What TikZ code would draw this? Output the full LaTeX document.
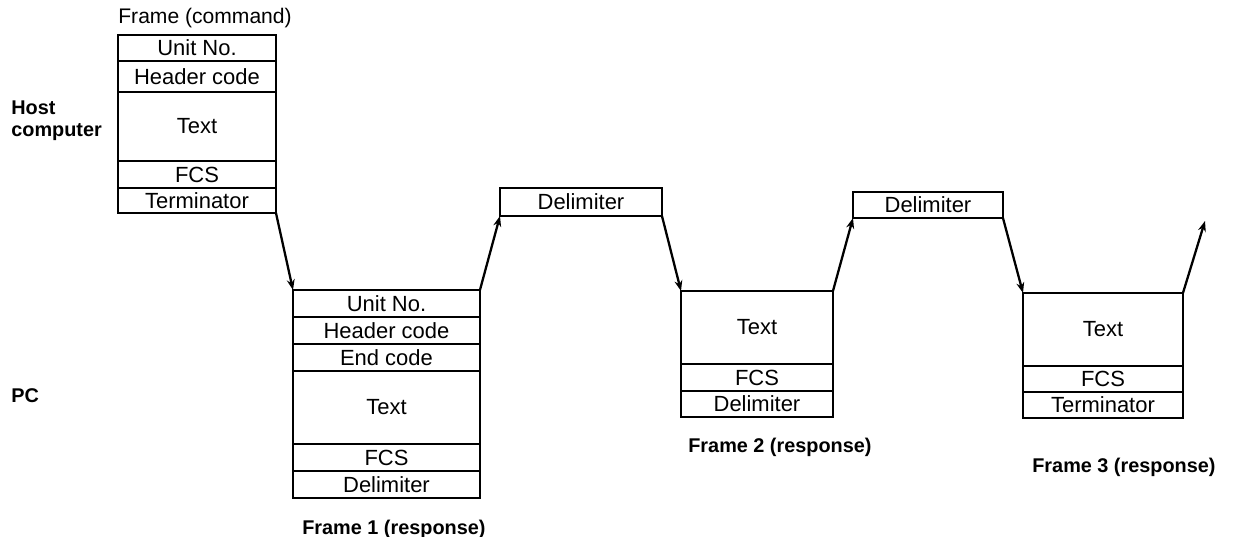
\documentclass[tikz,border=0pt]{standalone}
\usepackage{fontspec}
\setmainfont{Liberation Sans}
\usetikzlibrary{arrows.meta, positioning}

\begin{document}
\begin{tikzpicture}[x=0.02cm, y=-0.02cm, >={Stealth[length=6pt, width=4.5pt]},
    node distance=0.0cm,
    cell/.style={draw, line width=1.1pt, outer sep=0pt, inner sep=0pt,
                 minimum height=0.54cm, font=\fontsize{12.5}{14}\selectfont},
    tag/.style={inner sep=0pt, font=\bfseries\fontsize{11.3}{12.5}\selectfont},
    link/.style={->, line width=1.3pt}]

  \useasboundingbox (0,0) rectangle (1238,537);

  % side labels
  \node[tag, align=left, anchor=west] (host) at (11,121) {Host\\computer};
  \node[tag, anchor=west] (pc) at (11,396) {PC};

  % frame (command)
  \node[cell, minimum width=3.16cm, minimum height=0.52cm,
        anchor=north west] (cu) at (118,35) {Unit No.};
  \node[cell, minimum width=3.16cm, minimum height=0.62cm, below=0cm of cu] (ch) {Header code};
  \node[cell, minimum width=3.16cm, minimum height=1.38cm, below=0cm of ch] (ct) {Text};
  \node[cell, minimum width=3.16cm, below=0cm of ct] (cf) {FCS};
  \node[cell, minimum width=3.16cm, minimum height=0.5cm, below=0cm of cf] (ce) {Terminator};
  \node[inner sep=0pt, font=\fontsize{12}{14}\selectfont,
        anchor=south west] (cmd) at (118,28) {Frame (command)};

  % frame 1 (response)
  \node[cell, minimum width=3.74cm, anchor=north west] (au) at (293,290) {Unit No.};
  \node[cell, minimum width=3.74cm, below=0cm of au] (ah) {Header code};
  \node[cell, minimum width=3.74cm, below=0cm of ah] (ae) {End code};
  \node[cell, minimum width=3.74cm, minimum height=1.46cm, below=0cm of ae] (at) {Text};
  \node[cell, minimum width=3.74cm, below=0cm of at] (af) {FCS};
  \node[cell, minimum width=3.74cm, below=0cm of af] (ad) {Delimiter};
  \node[tag, anchor=west] (resp1) at (302,529) {Frame 1 (response)};

  % delimiters sent by the host
  \node[cell, minimum width=3.24cm, minimum height=0.56cm,
        anchor=north west] (d1) at (500,188) {Delimiter};
  \node[cell, minimum width=3.0cm, minimum height=0.52cm,
        anchor=north west] (d2) at (853,192) {Delimiter};

  % frame 2 (response)
  \node[cell, minimum width=3.04cm, minimum height=1.46cm,
        anchor=north west] (bt) at (681,291) {Text};
  \node[cell, minimum width=3.04cm, below=0cm of bt] (bf) {FCS};
  \node[cell, minimum width=3.04cm, minimum height=0.52cm, below=0cm of bf] (bd) {Delimiter};
  \node[tag, anchor=west] (resp2) at (688,447) {Frame 2 (response)};

  % frame 3 (response)
  \node[cell, minimum width=3.2cm, minimum height=1.46cm,
        anchor=north west] (et) at (1023,293) {Text};
  \node[cell, minimum width=3.2cm, minimum height=0.52cm, below=0cm of et] (ef) {FCS};
  \node[cell, minimum width=3.2cm, minimum height=0.52cm, below=0cm of ef] (ed) {Terminator};
  \node[tag, anchor=west] (resp3) at (1032,467) {Frame 3 (response)};

  \coordinate (next) at (1205,221);

  % turnaround links
  \draw[link] (ce.south east) -- (au.north west);
  \draw[link] (au.north east) -- (d1.south west);
  \draw[link] (d1.south east) -- (bt.north west);
  \draw[link] (bt.north east) -- (d2.south west);
  \draw[link] (d2.south east) -- (et.north west);
  \draw[link] (et.north east) -- (next);
\end{tikzpicture}
\end{document}
